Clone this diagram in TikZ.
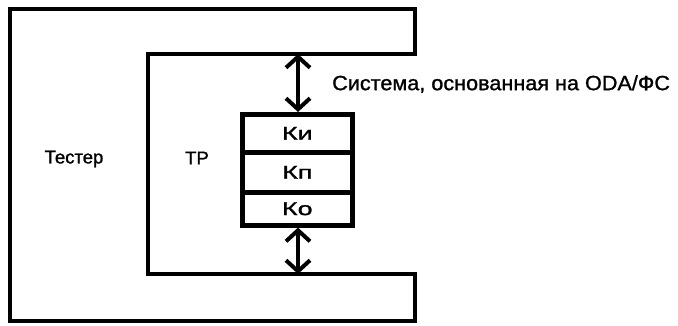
\documentclass[tikz,border=0pt]{standalone}
\usepackage{fontspec}
\setmainfont{Liberation Sans}[FakeBold=1.2]
\newfontfamily\widefont{Liberation Sans}[FakeStretch=1.45,FakeBold=1.4]
\newfontfamily\sysfont{Liberation Sans}[FakeStretch=1.05,FakeBold=1.2]
\usetikzlibrary{arrows.meta}
\begin{document}
\begin{tikzpicture}[x=1pt,y=-1pt,
  thickline/.style={line width=4.2pt},
  kbox/.style={draw,line width=4.6pt,minimum width=110pt,minimum height=38pt,inner sep=0pt,anchor=north west,font=\widefont\fontsize{18.5}{21}\selectfont},
  lbl/.style={font=\fontsize{18.5}{21}\selectfont,inner sep=0pt},
  dbl/.style={line width=4pt,{Straight Barb[length=11pt,width=24pt,line width=4pt]}-{Straight Barb[length=11pt,width=24pt,line width=4pt]}}]
\useasboundingbox (0,0) rectangle (678,326);
\draw[thickline,line join=miter] (10,9) -- (415,9) -- (415,54) -- (148,54) -- (148,274) -- (415,274) -- (415,321) -- (10,321) -- cycle;
\coordinate (topin) at (298,54);
\coordinate (botin) at (298,274);
\node[kbox] (ki) at (240,112) {Ки};
\node[kbox,minimum height=40pt] (kp) at (240,150) {Кп};
\node[kbox,minimum height=33pt] (ko) at (240,190) {Ко};
\draw[dbl] (topin) -- (ki.north -| topin);
\draw[dbl] (ko.south -| botin) -- (botin);
\node[lbl] (tester) at (74,159) {Тестер};
\node[lbl] (tr) at (197,158) {ТР};
\node[lbl,anchor=west,font=\sysfont\fontsize{20.6}{24}\selectfont] (sys) at (332,84) {Система, основанная на ODA/ФС};
\end{tikzpicture}
\end{document}
